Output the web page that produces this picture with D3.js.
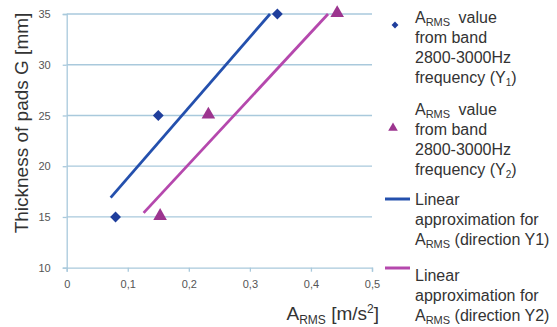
<!DOCTYPE html>
<html>
<head>
<meta charset="utf-8">
<script src="https://cdn.jsdelivr.net/npm/d3@7"></script>
<style>
  body { margin: 0; background: #fff; }
  text { font-family: "Liberation Sans", Arial, sans-serif; }
</style>
</head>
<body>
<svg id="chart" width="557" height="327"></svg>
<script>
// measured points
var y1X = [0.08, 0.15, 0.345];
var y1G = [15, 25, 35];
var y2X = [0.153, 0.232, 0.443];
var y2G = [15, 25, 35];

// linear approximation end points [x, G]
var fitY1 = [[0.072, 16.9], [0.333, 35]];
var fitY2 = [[0.126, 15.4], [0.428, 35]];

var xTicks = [0, 0.1, 0.2, 0.3, 0.4, 0.5];
var yTicks = [10, 15, 20, 25, 30, 35];

var BLUE = "#1f3e9c";
var BLUE_LINE = "#2450ad";
var PINK = "#9c358f";
var PINK_LINE = "#b548ad";
var GRID = "#a9c9dc";
var TEXT = "#333";

var svg = d3.select("#chart");

var x = d3.scaleLinear().domain([0, 0.5]).range([66.7, 372]);
var y = d3.scaleLinear().domain([10, 35]).range([267.7, 14]);

// GRID
svg.append("g").selectAll("line")
    .data(yTicks.slice(1))
    .enter().append("line")
    .attr("x1", x(0)).attr("x2", x(0.5))
    .attr("y1", function(d) {return y(d)})
    .attr("y2", function(d) {return y(d)})
    .attr("stroke", GRID)
    .attr("stroke-width", 1.3);

// AXES
var fmt = function(d) {return d === 0 ? "0" : String(d).replace(".", ",")};

var xAxis = svg.append("g")
    .attr("transform", "translate(0," + y(10) + ")")
    .call(d3.axisBottom(x).tickValues(xTicks).tickFormat(fmt).tickSize(4).tickPadding(9));

var yAxis = svg.append("g")
    .attr("transform", "translate(" + x(0) + ",0)")
    .call(d3.axisLeft(y).tickValues(yTicks).tickSize(4).tickPadding(12));

[xAxis, yAxis].forEach(function(a) {
  a.select(".domain").attr("stroke", GRID).attr("stroke-width", 1.3);
  a.selectAll(".tick line").attr("stroke", GRID).attr("stroke-width", 1.3);
  a.selectAll(".tick text")
      .attr("fill", "#555")
      .style("font-size", "11px")
      .style("font-family", "'Liberation Sans', Arial, sans-serif");
});

// FIT LINES
var line = d3.line()
    .x(function(d) {return x(d[0])})
    .y(function(d) {return y(d[1])});

svg.append("path").datum(fitY1)
    .attr("d", line)
    .attr("fill", "none")
    .attr("stroke", BLUE_LINE)
    .attr("stroke-width", 2.8);

svg.append("path").datum(fitY2)
    .attr("d", line)
    .attr("fill", "none")
    .attr("stroke", PINK_LINE)
    .attr("stroke-width", 2.8);

// MARKERS
var diamond = d3.symbol().type(d3.symbolDiamond2).size(75);
var triangle = d3.symbol().type(d3.symbolTriangle).size(80);

svg.append("g").selectAll("path")
    .data(d3.zip(y1X, y1G))
    .enter().append("path")
    .attr("d", diamond)
    .attr("transform", function(d) {return "translate(" + x(d[0]) + "," + y(d[1]) + ")"})
    .attr("fill", BLUE);

svg.append("g").selectAll("path")
    .data(d3.zip(y2X, y2G))
    .enter().append("path")
    .attr("d", triangle)
    .attr("transform", function(d) {return "translate(" + x(d[0]) + "," + (y(d[1]) - 1) + ")"})
    .attr("fill", PINK);

// AXIS TITLES
svg.append("text")
    .attr("transform", "translate(28,123) rotate(-90)")
    .attr("text-anchor", "middle")
    .attr("fill", TEXT)
    .style("font-size", "19px")
    .text("Thickness of pads G [mm]");

var xt = svg.append("text")
    .attr("x", 379)
    .attr("y", 320)
    .attr("text-anchor", "end")
    .attr("fill", TEXT)
    .style("font-size", "19px");
xt.append("tspan").text("A");
xt.append("tspan").attr("dy", 4).style("font-size", "12px").text("RMS");
xt.append("tspan").attr("dy", -4).text(" [m/s");
xt.append("tspan").attr("dy", -7).style("font-size", "12px").text("2");
xt.append("tspan").attr("dy", 7).text("]");

// LEGEND
var lineH = 20;
var legendX = 415;

function armsLine(t, yy, rest, gap) {
  t.append("tspan").attr("x", legendX).attr("y", yy).text("A");
  t.append("tspan").attr("dy", 3).style("font-size", "11px").text("RMS");
  t.append("tspan").attr("dy", -3).attr("dx", gap).text(rest);
}

function legendText(top, lines) {
  var t = svg.append("text")
      .attr("fill", TEXT)
      .style("font-size", "16px");
  lines.forEach(function(l, i) {
    var yy = top + i * lineH;
    if (l.indexOf("A_RMS") === 0) {
      armsLine(t, yy, l.slice(5), l.indexOf("value") > 0 ? 4 : 0);
    } else {
      var s = t.append("tspan").attr("x", legendX).attr("y", yy);
      var m = l.match(/^(.*)\((Y)(\d)\)$/);
      if (m) {
        s.text(m[1] + "(" + m[2]);
        t.append("tspan").attr("dy", 3).style("font-size", "10px").text(m[3]);
        t.append("tspan").attr("dy", -3).text(")");
      } else {
        s.text(l);
      }
    }
  });
}

legendText(23, ["A_RMS value", "from band", "2800-3000Hz", "frequency (Y1)"]);
legendText(115, ["A_RMS value", "from band", "2800-3000Hz", "frequency (Y2)"]);
legendText(205, ["Linear", "approximation for", "A_RMS (direction Y1)"]);
legendText(281, ["Linear", "approximation for", "A_RMS (direction Y2)"]);

svg.append("path")
    .attr("d", d3.symbol().type(d3.symbolDiamond2).size(30))
    .attr("transform", "translate(395,25)")
    .attr("fill", BLUE);

svg.append("path")
    .attr("d", d3.symbol().type(d3.symbolTriangle).size(40))
    .attr("transform", "translate(393,128)")
    .attr("fill", PINK);

svg.append("line")
    .attr("x1", 385).attr("x2", 410).attr("y1", 199).attr("y2", 199)
    .attr("stroke", BLUE_LINE).attr("stroke-width", 3);

svg.append("line")
    .attr("x1", 385).attr("x2", 410).attr("y1", 268).attr("y2", 268)
    .attr("stroke", PINK_LINE).attr("stroke-width", 3);
</script>
</body>
</html>
